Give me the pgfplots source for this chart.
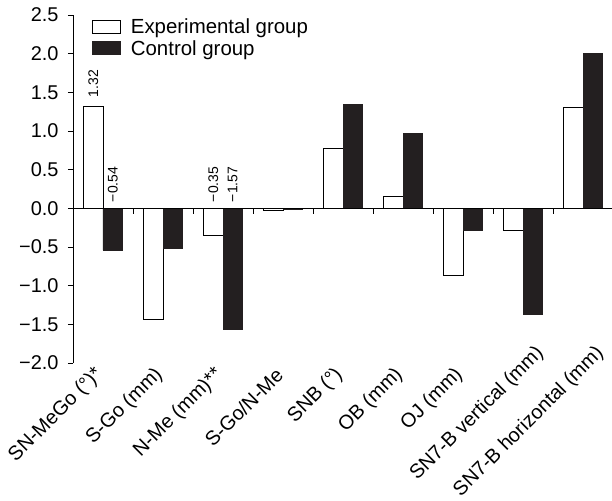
\documentclass[border=0pt]{standalone}
\usepackage{fontspec}
\setmainfont{Liberation Sans}
\usepackage{pgfplots}
\pgfplotsset{compat=1.18}
\definecolor{barblack}{HTML}{231F20}
\newcommand{\lblfont}{\fontsize{20}{23}\selectfont}
\newcommand{\legfont}{\fontsize{20.5}{23}\selectfont}
\newcommand{\valfont}{\fontsize{14}{16}\selectfont}

\begin{document}
\begin{tikzpicture}
\begin{axis}[
  width=540bp, height=348bp,
  scale only axis=true,
  ybar=0pt,
  bar width=0.325,
  xmin=-0.5, xmax=8.5,
  ymin=-2, ymax=2.5,
  axis y line*=left,
  axis x line*=bottom,
  x axis line style={draw=none},
  axis line style={line width=0.8bp},
  ytick={-2,-1.5,...,2.5},
  yticklabels={−2.0,−1.5,−1.0,−0.5,0.0,0.5,1.0,1.5,2.0,2.5},
  ytick style={line width=0.8bp, black},
  tick align=outside,
  major tick length=5bp,
  xtick=data,
  xtick style={draw=none},
  xticklabels={SN-MeGo (°)*, S-Go (mm), N-Me (mm)**, S-Go/N-Me, SNB (°), OB (mm), OJ (mm), SN7-B vertical (mm)\hspace*{-30bp}, SN7-B horizontal (mm)\hspace*{-30bp}},
  xticklabel style={rotate=45, anchor=east, font=\lblfont, inner sep=2bp, xshift=-3bp},
  yticklabel style={font=\lblfont, xshift=-6bp},
  legend style={draw=none, fill=none, font=\legfont, at={(rel axis cs:0.035,0.995)}, anchor=north west, inner sep=0pt, row sep=1bp},
  legend cell align=left,
  legend image code/.code={\draw[#1, line width=0.8bp] (0bp,-6.5bp) rectangle (28bp,6.5bp);},
]
\addplot[draw=black, fill=white, line width=0.8bp] coordinates {
  (0,1.32) (1,-1.44) (2,-0.35) (3,-0.03) (4,0.78) (5,0.16) (6,-0.87) (7,-0.28) (8,1.31)
};
\addplot[draw=barblack, fill=barblack, line width=0.8bp] coordinates {
  (0,-0.54) (1,-0.52) (2,-1.57) (3,-0.01) (4,1.34) (5,0.97) (6,-0.28) (7,-1.37) (8,2.00)
};
\legend{\hspace*{8bp}Experimental group, \hspace*{8bp}Control group}

% zero line and ticks between groups
\draw[line width=0.8bp] (axis cs:-0.5,0) -- (axis cs:8.5,0);
\pgfplotsinvokeforeach{0.5,1.5,2.5,3.5,4.5,5.5,6.5,7.5,8.5}{
  \draw[line width=0.8bp] (axis cs:#1,0) -- ([yshift=-6bp]axis cs:#1,0);
}
% value labels
\node[rotate=90, anchor=west, font=\valfont, inner sep=0pt] at ([yshift=9bp]axis cs:-0.1625,1.32) {1.32};
\node[rotate=90, anchor=west, font=\valfont, inner sep=0pt] at ([yshift=6bp]axis cs:0.1625,0) {−0.54};
\node[rotate=90, anchor=west, font=\valfont, inner sep=0pt] at ([yshift=6bp]axis cs:1.8375,0) {−0.35};
\node[rotate=90, anchor=west, font=\valfont, inner sep=0pt] at ([yshift=6bp]axis cs:2.1625,0) {−1.57};
\end{axis}
\pgfresetboundingbox
\path ([xshift=-73bp,yshift=15bp]current axis.north west) rectangle ([xshift=-1bp,yshift=-138bp]current axis.south east);
\end{tikzpicture}
\end{document}
